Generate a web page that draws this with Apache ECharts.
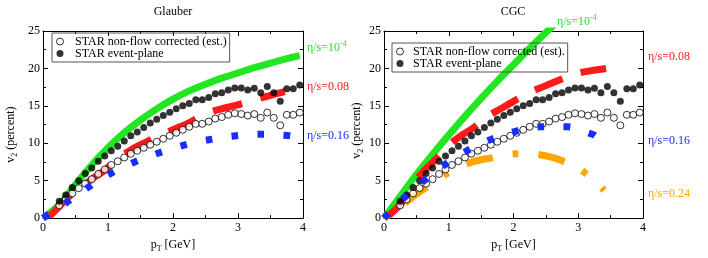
<!DOCTYPE html>
<html><head><meta charset="utf-8">
<script src="https://cdn.jsdelivr.net/npm/echarts@6/dist/echarts.min.js"></script>
<style>html,body{margin:0;padding:0;background:#fff}#c{width:708px;height:258px}</style>
</head><body><div id="c"></div>
<script>
// ---- STAR data (same in both panels) ----
const starPt = [0.25,0.35,0.45,0.55,0.65,0.75,0.85,0.95,1.05,1.15,1.25,1.35,1.45,1.55,1.65,1.75,1.85,1.95,2.05,2.15,2.25,2.35,2.45,2.55,2.65,2.75,2.85,2.95,3.05,3.15,3.25,3.35,3.45,3.55,3.65,3.75,3.85,3.95];
const nonFlowV2 = [1.7,2.5,3.3,4.0,4.6,5.2,5.9,6.5,7.1,7.6,8.1,8.6,9.0,9.4,9.8,10.2,10.6,11.0,11.4,11.8,12.2,12.6,12.6,12.9,13.3,13.5,13.8,14.0,13.9,13.7,13.9,13.4,14.1,13.4,12.4,13.8,13.8,14.1];
const eventPlaneV2 = [2.25,3.1,4.1,5.0,5.95,6.7,7.6,8.3,9.0,9.6,10.3,11.0,11.5,12.1,12.7,13.2,13.7,14.15,14.6,15.0,15.3,15.8,15.8,16.1,16.6,16.75,17.1,17.4,17.4,17.1,17.35,16.75,17.6,16.75,15.6,17.3,17.3,17.8];

// ---- Glauber hydro curves ----
const glauberIdealPt = [0,0.25,0.5,0.75,1.0,1.25,1.5,1.75,2.0,2.25,2.5,2.75,3.0,3.25,3.5,3.75,3.95];
const glauberIdealV2 = [0,1.8,4.5,7.1,9.4,11.4,13.1,14.6,15.9,17.0,17.9,18.7,19.4,20.1,20.7,21.3,21.7];
const glauber008Pt = [0,0.1,0.2,0.3,0.45,0.62,0.8,0.95,1.07,1.18,1.37,1.57,1.83,2.05,2.26,2.52,2.75,2.98,3.25,3.5,3.72];
const glauber008V2 = [0,0.3,1.1,2.0,3.3,4.4,5.5,6.4,7.3,8.1,9.2,10.1,11.2,12.0,12.8,14.0,14.6,15.1,15.8,16.4,16.9];
const glauber016Pt = [0,0.38,0.71,1.05,1.41,1.78,2.17,2.57,2.97,3.37,3.77,3.82];
const glauber016V2 = [0,2.2,4.2,6.0,7.5,8.7,9.75,10.5,11.0,11.2,11.05,11.0];

// ---- CGC hydro curves ----
const cgcIdealPt = [0,0.25,0.5,0.75,1.0,1.25,1.5,1.75,2.0,2.25,2.5,2.75];
const cgcIdealV2 = [0,2.9,5.8,8.5,11.1,13.6,16.0,18.3,20.5,22.7,24.8,26.8];
const cgc008Pt = [0,0.08,0.29,0.47,0.62,0.78,0.98,1.17,1.37,1.6,1.8,2.0,2.25,2.47,2.69,2.97,3.2,3.43];
const cgc008V2 = [0,0.4,2.2,4.8,6.3,7.7,9.6,10.9,12.0,13.6,14.6,15.6,16.8,17.6,18.4,19.3,19.7,20.0];
const cgc016Pt = [0,0.32,0.63,0.95,1.28,1.65,2.03,2.42,2.83,3.22,3.26];
const cgc016V2 = [0,2.8,5.1,7.2,9.0,10.5,11.6,12.2,12.2,11.2,11.0];
const cgc024Pt = [0,0.32,0.5,0.67,0.96,1.26,1.5,1.71,2.04,2.2,2.39,2.6,2.83,3.0,3.11,3.25,3.4];
const cgc024V2 = [0,2.0,3.2,4.2,5.9,7.2,7.8,8.1,8.6,8.6,8.5,8.1,7.4,6.7,6.0,5.0,3.7];

// ---- axis ticks ----
const xTicks = [0,1,2,3,4];
const yTicks = [0,5,10,15,20,25];

const panelTitles = ['Glauber','CGC'];
const legendNames = [['STAR non-flow corrected (est.)','STAR event-plane'],['STAR non-flow corrected (est).','STAR event-plane']];

const C_GREEN = '#22e622', C_RED = '#ff1a1a', C_BLUE = '#1a2cff', C_ORANGE = '#ffa500';
const SERIF = 'Liberation Serif';

const pairs = (xs, ys) => xs.map((x, i) => [x, ys[i]]);

const grids = [
  {left: 43, top: 31, width: 260, height: 191},
  {left: 384, top: 31, width: 259, height: 191}
];

const xAxes = [], yAxes = [];
grids.forEach((g, gi) => {
  const base = {
    type: 'value', gridIndex: gi, splitLine: {show: false},
    axisLine: {show: true, onZero: false, lineStyle: {color: '#000', width: 1}},
    axisTick: {show: true, inside: true, length: 5, lineStyle: {color: '#000'}},
    minorTick: {show: true, splitNumber: 2, length: 3, lineStyle: {color: '#000'}},
  };
  const xb = Object.assign({}, base, {min: xTicks[0], max: xTicks[xTicks.length - 1], interval: xTicks[1] - xTicks[0]});
  const yb = Object.assign({}, base, {min: yTicks[0], max: yTicks[yTicks.length - 1], interval: yTicks[1] - yTicks[0]});
  xAxes.push(Object.assign({}, xb, {
    position: 'bottom',
    axisLabel: {color: '#000', fontFamily: SERIF, fontSize: 12, margin: 4},
    name: '{b|p}{s|T}{b| [GeV]}', nameLocation: 'middle', nameGap: 12,
    nameTextStyle: {rich: {
      b: {fontFamily: SERIF, fontSize: 12, color: '#000', lineHeight: 16},
      s: {fontFamily: SERIF, fontSize: 8, color: '#000', lineHeight: 9, verticalAlign: 'bottom'}
    }}
  }));
  xAxes.push(Object.assign({}, xb, {position: 'top', axisLabel: {show: false}}));
  yAxes.push(Object.assign({}, yb, {
    position: 'left',
    axisLabel: {color: '#000', fontFamily: SERIF, fontSize: 12, margin: 3},
    name: '{b|v}{s|2}{b| (percent)}', nameLocation: 'middle', nameGap: gi === 0 ? 24 : 17,
    nameTextStyle: {padding: gi === 0 ? [0, 20, 0, 0] : [0, 12, 0, 0], rich: {
      b: {fontFamily: SERIF, fontSize: 12, color: '#000', lineHeight: 16},
      s: {fontFamily: SERIF, fontSize: 8, color: '#000', lineHeight: 9, verticalAlign: 'bottom'}
    }}
  }));
  yAxes.push(Object.assign({}, yb, {position: 'right', axisLabel: {show: false}}));
});

function curve(gi, xs, ys, color, dash, offset, z) {
  return {
    type: 'line', xAxisIndex: gi * 2, yAxisIndex: gi * 2, data: pairs(xs, ys),
    showSymbol: false, symbol: 'none', smooth: 0.3, silent: true, z: z || 2,
    lineStyle: {color: color, width: 7, type: dash || 'solid', dashOffset: offset || 0, cap: 'butt'}
  };
}
function star(gi) {
  return [
    {type: 'scatter', name: legendNames[gi][0], xAxisIndex: gi * 2, yAxisIndex: gi * 2,
     data: pairs(starPt, nonFlowV2), symbol: 'circle', symbolSize: 7, z: 5,
     itemStyle: {color: '#fff', borderColor: '#000', borderWidth: 1}},
    {type: 'scatter', name: legendNames[gi][1], xAxisIndex: gi * 2, yAxisIndex: gi * 2,
     data: pairs(starPt, eventPlaneV2), symbol: 'circle', symbolSize: 7, z: 5,
     itemStyle: {color: '#000'}}
  ];
}

const series = [
  curve(0, glauberIdealPt, glauberIdealV2, C_GREEN),
  curve(0, glauber008Pt, glauber008V2, C_RED, [30, 19], 42),
  curve(0, glauber016Pt, glauber016V2, C_BLUE, [7, 19], 0, 6),
  ...star(0),
  curve(1, cgcIdealPt, cgcIdealV2, C_GREEN),
  curve(1, cgc008Pt, cgc008V2, C_RED, [30, 19], 44),
  curve(1, cgc024Pt, cgc024V2, C_ORANGE, [6, 20, 27, 20], 0),
  curve(1, cgc016Pt, cgc016V2, C_BLUE, [7, 19], 0, 6),
  ...star(1)
];

function legend(gi, left, top, iw) {
  return {
    left: left, top: top, orient: 'vertical', selectedMode: false,
    borderColor: '#555', borderWidth: 1, padding: [2.5, 3, 2.5, 4], itemGap: 0,
    itemWidth: iw, itemHeight: 7,
    textStyle: {fontFamily: SERIF, fontSize: 12, color: '#000', lineHeight: 12},
    data: [
      {name: legendNames[gi][0], icon: 'circle', itemStyle: {color: '#fff', borderColor: '#000', borderWidth: 1}},
      {name: legendNames[gi][1], icon: 'circle', itemStyle: {color: '#000'}}
    ]
  };
}

function label(x, y, main, sup, color) {
  return {
    type: 'text', x: x, y: y, silent: true,
    style: {
      text: sup ? '{b|' + main + '}{s|' + sup + '}' : '{b|' + main + '}',
      verticalAlign: 'middle', align: 'left',
      rich: {
        b: {fontFamily: SERIF, fontSize: 12, fill: color, lineHeight: 16},
        s: {fontFamily: SERIF, fontSize: 8, fill: color, lineHeight: 9, verticalAlign: 'top'}
      }
    }
  };
}

const option = {
  animation: false,
  grid: grids,
  xAxis: xAxes,
  yAxis: yAxes,
  legend: [legend(0, 52, 33, 20), legend(1, 392, 43, 16)],
  series: series,
  graphic: [
    {type: 'text', x: 173, y: 12, silent: true, style: {text: panelTitles[0], fontFamily: SERIF, fontSize: 12, fill: '#000', align: 'center', verticalAlign: 'middle'}},
    {type: 'text', x: 513, y: 12, silent: true, style: {text: panelTitles[1], fontFamily: SERIF, fontSize: 12, fill: '#000', align: 'center', verticalAlign: 'middle'}},
    label(307, 48, 'η/s=10', '-4', C_GREEN),
    label(307, 87, 'η/s=0.08', null, C_RED),
    label(307, 136, 'η/s=0.16', null, C_BLUE),
    label(557, 22, 'η/s=10', '-4', C_GREEN),
    label(648, 57, 'η/s=0.08', null, C_RED),
    label(648, 141, 'η/s=0.16', null, C_BLUE),
    label(648, 194, 'η/s=0.24', null, C_ORANGE)
  ]
};
echarts.init(document.getElementById('c')).setOption(option);
</script></body></html>
